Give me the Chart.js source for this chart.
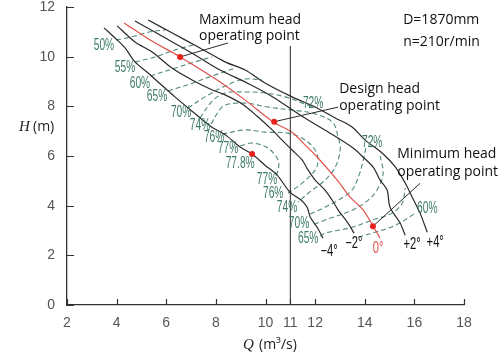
<!DOCTYPE html>
<html>
<head>
<meta charset="utf-8">
<script src="https://cdn.jsdelivr.net/npm/chart.js@4.4.0/dist/chart.umd.min.js"></script>
<style>
  html, body { margin: 0; padding: 0; background: #fff; }
  #wrap { width: 498px; height: 355px; }
</style>
</head>
<body>
<div id="wrap"><canvas id="hillChart" width="498" height="355"></canvas></div>
<script>
// axis ticks
const qTicks = [2, 4, 6, 8, 10, 11, 12, 14, 16, 18];
const hTicks = [0, 2, 4, 6, 8, 10, 12];

// blade angle curves (Q in m3/s, H in m)
const qM4 = [3.49, 3.94, 4.34, 4.74, 5.27, 5.67, 6.35, 7.08, 7.77, 8.45, 8.98, 9.46, 9.98, 10.47, 10.99, 11.44, 11.68, 11.80, 12.08, 12.32];
const hM4 = [11.16, 10.75, 10.35, 9.79, 9.34, 8.98, 8.38, 7.77, 7.21, 6.80, 6.36, 6.08, 5.63, 5.23, 4.54, 4.22, 3.94, 3.54, 3.13, 2.69];
const qM2 = [4.02, 4.74, 5.43, 6.23, 7.04, 7.77, 8.37, 9.06, 9.70, 10.27, 10.67, 11.07, 11.48, 11.72, 12.00, 12.40, 12.69, 12.93, 13.33, 13.57];
const hM2 = [11.24, 10.59, 10.19, 9.54, 9.06, 8.70, 8.46, 8.09, 7.57, 7.05, 6.64, 6.24, 5.83, 5.43, 5.03, 4.63, 4.22, 3.82, 3.29, 2.89];
const qZero = [4.30, 5.35, 6.56, 8.05, 9.18, 10.31, 11.07, 11.52, 12.08, 12.89, 13.41, 13.94, 14.34, 14.62];
const hZero = [11.36, 10.67, 9.99, 9.06, 8.25, 7.37, 6.96, 6.52, 5.96, 5.03, 4.34, 3.82, 3.17, 2.69];
const qP2 = [4.74, 5.75, 6.96, 8.17, 9.26, 10.31, 11.52, 12.60, 13.53, 13.94, 14.34, 14.62, 14.90, 15.02, 15.43, 15.63];
const hP2 = [11.44, 10.87, 10.19, 9.46, 8.94, 8.37, 7.57, 6.92, 6.32, 5.95, 5.55, 5.03, 4.63, 3.94, 3.29, 2.81];
const qP4 = [5.27, 6.15, 7.36, 8.37, 9.18, 9.98, 11.07, 12.00, 12.81, 13.49, 14.02, 14.70, 15.23, 15.63, 15.91, 16.23, 16.52];
const hP4 = [11.48, 11.00, 10.35, 9.79, 9.46, 8.94, 8.38, 7.97, 7.53, 7.17, 6.64, 6.12, 5.56, 4.91, 4.35, 3.70, 2.93];

const bladeLabels = ['\u22124\u00b0', '\u22122\u00b0', '0\u00b0', '+2\u00b0', '+4\u00b0'];
const bladeLabelQ = [12.56, 13.56, 14.54, 15.91, 16.84];
const bladeLabelH = [2.17, 2.48, 2.29, 2.42, 2.50];

// efficiency contours
const eff50Q = [3.98, 4.74, 5.35, 5.95];
const eff50H = [10.67, 10.83, 11.00, 11.08];
const eff55Q = [4.74, 5.55, 6.35, 7.08];
const eff55H = [9.79, 9.99, 10.27, 10.47];
const eff60aQ = [5.35, 6.23, 7.16, 7.85];
const eff60aH = [9.22, 9.50, 9.79, 9.99];
const eff60bQ = [13.73, 14.42, 15.23, 15.99];
const eff60bH = [2.73, 2.93, 3.21, 3.66];
const eff65aQ = [6.07, 6.96, 7.85, 8.77];
const eff65aH = [8.62, 8.90, 9.22, 9.54];
const eff65bQ = [12.20, 12.40, 13.49, 14.30, 15.10, 15.51, 15.63];
const eff65bH = [2.77, 2.89, 3.13, 3.42, 3.70, 4.10, 4.71];
const eff70aQ = [6.88, 7.56, 8.37, 9.18, 9.86];
const eff70aH = [7.93, 8.38, 8.82, 9.10, 9.06];
const eff70bQ = [11.96, 12.40, 13.49, 14.14, 14.54, 14.74, 14.62];
const eff70bH = [3.25, 3.42, 3.82, 4.22, 4.71, 5.31, 6.00];
const eff72aQ = [7.36, 7.85, 8.37, 9.18, 9.98, 10.79, 11.60, 11.92];
const eff72aH = [7.53, 8.21, 8.54, 8.58, 8.54, 8.38, 8.09, 7.97];
const eff72bQ = [11.80, 12.40, 12.93, 13.49, 13.77, 13.94, 14.06];
const eff72bH = [3.66, 3.94, 4.22, 4.63, 5.23, 5.83, 6.40];
const eff74Q = [7.81, 8.09, 8.37, 9.18, 10.10, 11.07, 11.88, 12.69, 12.93, 13.01, 12.81, 12.40, 11.72, 11.31];
const eff74H = [7.29, 7.77, 8.05, 8.13, 7.97, 7.85, 7.73, 7.37, 6.76, 6.24, 5.55, 5.03, 4.50, 4.14];
const eff76Q = [8.25, 9.18, 9.98, 10.91, 11.60, 12.00, 12.12, 12.00, 11.48, 10.91];
const eff76H = [6.88, 7.05, 6.96, 6.92, 6.64, 6.24, 5.83, 5.43, 4.91, 4.50];
const eff77Q = [8.98, 9.46, 10.10, 10.51, 10.51, 10.39];
const eff77H = [6.40, 6.52, 6.32, 5.83, 5.43, 5.15];

const effLabels = ['50%', '55%', '60%', '65%', '70%', '74%', '76%', '77%', '77.8%', '77%', '76%', '74%', '70%', '65%', '72%', '72%', '60%'];
const effLabelQ = [3.49, 4.34, 4.94, 5.63, 6.60, 7.36, 7.93, 8.49, 8.98, 10.06, 10.31, 10.87, 11.35, 11.72, 11.92, 14.30, 16.52];
const effLabelH = [10.43, 9.58, 8.90, 8.38, 7.73, 7.24, 6.76, 6.28, 5.71, 5.03, 4.50, 3.94, 3.29, 2.69, 8.13, 6.52, 3.90];

// operating points: max head, design head, min head, best efficiency
const opQ = [6.56, 10.35, 14.33, 9.46];
const opH = [9.99, 7.38, 3.17, 6.08];

// leader lines from the points to their notes
const leadMaxQ = [6.56, 8.49];
const leadMaxH = [9.99, 10.55];
const leadDesQ = [10.35, 12.93];
const leadDesH = [7.38, 7.97];
const leadMinQ = [14.33, 16.23];
const leadMinH = [3.17, 4.90];

// Q = 11 reference line
const refQ = [11, 11];
const refH = [0, 10.43];

// notes
const noteText = ['Maximum head', 'operating point', 'Design head', 'operating point', 'Minimum head', 'operating point', 'D=1870mm', 'n=210r/min'];
const noteQ = [7.32, 7.32, 12.97, 12.97, 15.31, 15.31, 15.55, 15.55];
const noteH = [11.48, 10.83, 8.69, 8.01, 6.08, 5.35, 11.48, 10.59];

function zip(qs, hs) {
  return qs.map((q, i) => ({ x: q, y: hs[i] }));
}

const BLACK = '#2a2a2a';
const RED = '#e2524a';
const GREEN = '#4f8a76';

function solid(qs, hs, color, order) {
  return {
    data: zip(qs, hs),
    showLine: true,
    borderColor: color,
    borderWidth: 1.2,
    pointRadius: 0,
    tension: 0.3,
    order: order
  };
}

function dashed(qs, hs) {
  return {
    data: zip(qs, hs),
    showLine: true,
    borderColor: GREEN,
    borderWidth: 1.1,
    borderDash: [5, 3],
    pointRadius: 0,
    tension: 0.35,
    order: 4
  };
}

function straight(qs, hs) {
  return {
    data: zip(qs, hs),
    showLine: true,
    borderColor: BLACK,
    borderWidth: 1,
    pointRadius: 0,
    tension: 0,
    order: 1
  };
}

const datasets = [
  {
    data: zip(opQ, opH),
    showLine: false,
    pointRadius: 3,
    pointBackgroundColor: '#e8201a',
    pointBorderWidth: 0,
    order: 0
  },
  straight(leadMaxQ, leadMaxH),
  straight(leadDesQ, leadDesH),
  straight(leadMinQ, leadMinH),
  straight(refQ, refH),
  solid(qZero, hZero, RED, 2),
  solid(qM4, hM4, BLACK, 3),
  solid(qM2, hM2, BLACK, 3),
  solid(qP2, hP2, BLACK, 3),
  solid(qP4, hP4, BLACK, 3),
  dashed(eff50Q, eff50H),
  dashed(eff55Q, eff55H),
  dashed(eff60aQ, eff60aH),
  dashed(eff60bQ, eff60bH),
  dashed(eff65aQ, eff65aH),
  dashed(eff65bQ, eff65bH),
  dashed(eff70aQ, eff70aH),
  dashed(eff70bQ, eff70bH),
  dashed(eff72aQ, eff72aH),
  dashed(eff72bQ, eff72bH),
  dashed(eff74Q, eff74H),
  dashed(eff76Q, eff76H),
  dashed(eff77Q, eff77H)
];

function narrowText(ctx, text, px, py, size, sx, color) {
  ctx.save();
  ctx.translate(px, py);
  ctx.scale(sx, 1);
  ctx.font = size + 'px "Liberation Sans", Arial, sans-serif';
  ctx.fillStyle = color;
  ctx.textAlign = 'center';
  ctx.textBaseline = 'middle';
  ctx.fillText(text, 0, 0);
  ctx.restore();
}

const decorPlugin = {
  id: 'decor',
  afterDraw(chart) {
    const { ctx, chartArea } = chart;
    const x = chart.scales.x;
    const y = chart.scales.y;
    ctx.save();

    // inner tick marks
    ctx.strokeStyle = '#333';
    ctx.lineWidth = 1.2;
    ctx.beginPath();
    qTicks.forEach(v => {
      const px = Math.round(x.getPixelForValue(v)) + 0.5;
      ctx.moveTo(px, chartArea.bottom);
      ctx.lineTo(px, chartArea.bottom - 6);
    });
    hTicks.forEach(v => {
      const py = Math.round(y.getPixelForValue(v)) + 0.5;
      ctx.moveTo(chartArea.left, py);
      ctx.lineTo(chartArea.left + 7, py);
    });
    ctx.stroke();

    // efficiency labels
    effLabels.forEach((t, i) => {
      narrowText(ctx, t, x.getPixelForValue(effLabelQ[i]), y.getPixelForValue(effLabelH[i]), 16, 0.64, '#3d7b66');
    });

    // blade angle labels
    bladeLabels.forEach((t, i) => {
      narrowText(ctx, t, x.getPixelForValue(bladeLabelQ[i]), y.getPixelForValue(bladeLabelH[i]), 16, 0.7, i === 2 ? RED : '#111');
    });

    // notes
    ctx.font = '14px "Open Sans", "Noto Sans", sans-serif';
    ctx.fillStyle = '#111';
    ctx.textAlign = 'left';
    ctx.textBaseline = 'middle';
    noteText.forEach((t, i) => {
      ctx.fillText(t, x.getPixelForValue(noteQ[i]), y.getPixelForValue(noteH[i]));
    });

    // axis titles
    ctx.fillStyle = '#222';
    ctx.textBaseline = 'middle';
    ctx.font = 'italic 15px "Liberation Serif", serif';
    ctx.fillText('H', 19, 127);
    ctx.font = '14px "Open Sans", "Noto Sans", sans-serif';
    ctx.fillText('(m)', 33, 127);
    ctx.font = 'italic 15px "Liberation Serif", serif';
    ctx.fillText('Q', 243, 345);
    ctx.font = '14px "Open Sans", "Noto Sans", sans-serif';
    ctx.fillText('(m\u00b3/s)', 259, 345);

    ctx.restore();
  }
};

new Chart(document.getElementById('hillChart'), {
  type: 'scatter',
  data: { datasets: datasets },
  options: {
    responsive: false,
    animation: false,
    layout: { autoPadding: false, padding: { left: 0, right: 34, top: 7, bottom: 0 } },
    plugins: {
      legend: { display: false },
      tooltip: { enabled: false }
    },
    scales: {
      x: {
        type: 'linear',
        min: 2,
        max: 18,
        afterBuildTicks: scale => { scale.ticks = qTicks.map(v => ({ value: v })); },
        afterFit: scale => {
          scale.height = 50;
          scale.paddingLeft = 0;
          scale.paddingRight = 0;
        },
        grid: { display: false, drawTicks: false },
        border: { display: true, color: '#333', width: 1.3 },
        ticks: {
          padding: 10,
          color: '#555',
          font: { family: '"Liberation Sans", Arial, sans-serif', size: 14 }
        }
      },
      y: {
        type: 'linear',
        min: 0,
        max: 12,
        afterBuildTicks: scale => { scale.ticks = hTicks.map(v => ({ value: v })); },
        afterFit: scale => {
          scale.width = 67;
          scale.paddingTop = 0;
          scale.paddingBottom = 0;
        },
        grid: { display: false, drawTicks: false },
        border: { display: true, color: '#333', width: 1.3 },
        ticks: {
          padding: 12,
          color: '#555',
          font: { family: '"Liberation Sans", Arial, sans-serif', size: 14 }
        }
      }
    }
  },
  plugins: [decorPlugin]
});
</script>
</body>
</html>
